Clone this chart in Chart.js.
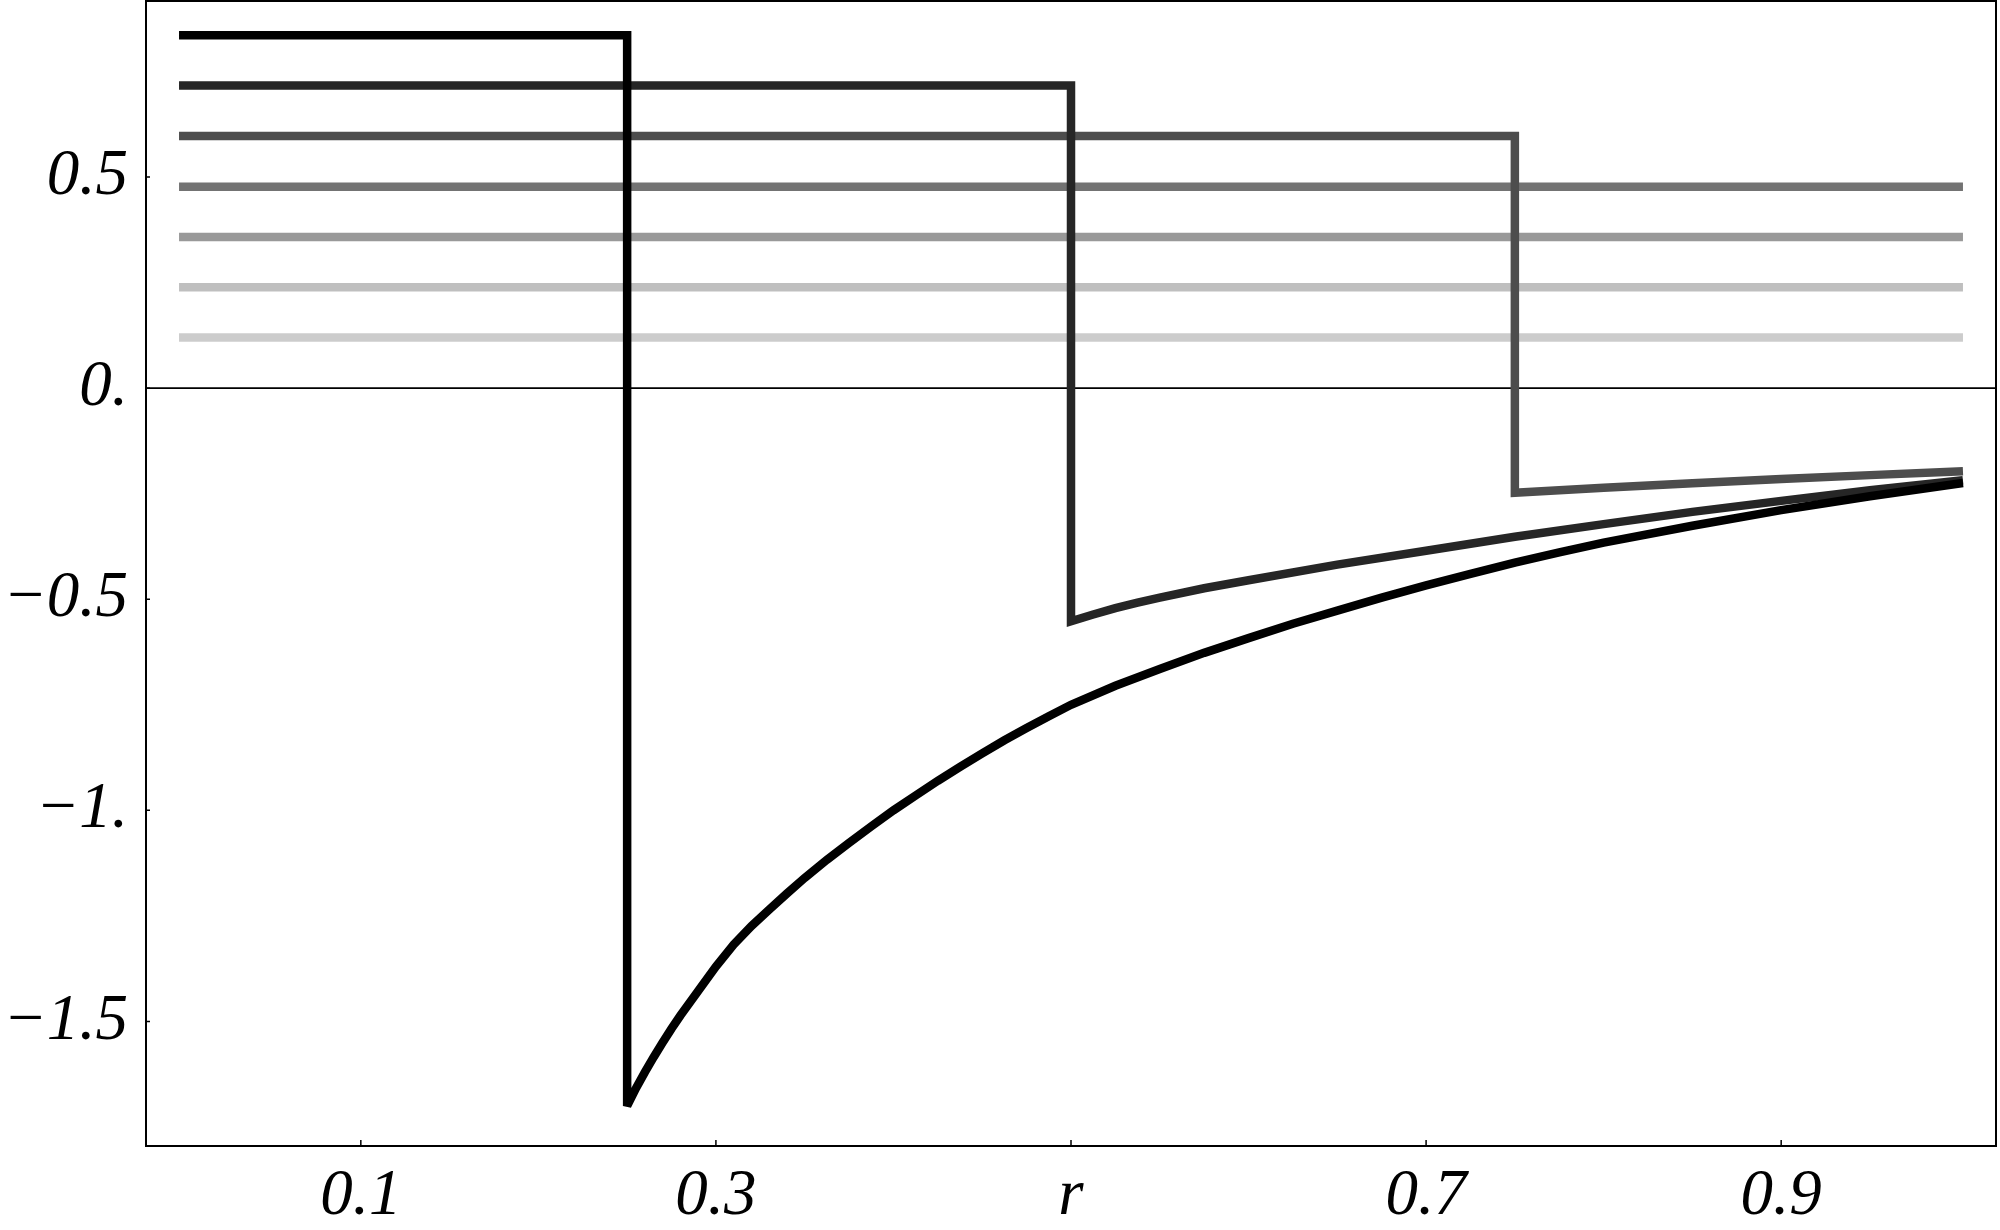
<!DOCTYPE html>
<html lang="en">
<head>
<meta charset="UTF-8">
<title>Curvas en r</title>
<script src="https://cdn.jsdelivr.net/npm/chart.js"></script>
<style>
  body { margin: 0; background: #fff; }
  canvas { display: block; }
</style>
</head>
<body>
<canvas id="grafico" width="2000" height="1230"></canvas>
<script>
// flat level of each curve for small r, top curve first
const levels = [0.836, 0.717, 0.597, 0.477, 0.358, 0.239, 0.120];
// r where the first three curves drop
const jumps = [0.25, 0.5, 0.75];

// what each of those three does after the drop
const tail1R = [0.25, 0.255, 0.26, 0.265, 0.27, 0.275, 0.28, 0.29, 0.30, 0.31, 0.32, 0.33, 0.34, 0.35, 0.3625, 0.375, 0.3875, 0.40, 0.4125, 0.425, 0.4375, 0.45, 0.4625, 0.475, 0.4875, 0.50, 0.525, 0.55, 0.575, 0.60, 0.625, 0.65, 0.675, 0.70, 0.725, 0.75, 0.775, 0.80, 0.85, 0.90, 0.95, 1.00];
const tail1V = [-1.70, -1.658, -1.62, -1.584, -1.55, -1.517, -1.486, -1.428, -1.37, -1.318, -1.274, -1.235, -1.197, -1.16, -1.117, -1.077, -1.038, -1.00, -0.965, -0.93, -0.897, -0.865, -0.834, -0.805, -0.777, -0.75, -0.705, -0.665, -0.627, -0.592, -0.558, -0.527, -0.496, -0.467, -0.44, -0.413, -0.389, -0.366, -0.326, -0.289, -0.256, -0.226];
const tail2R = [0.5, 0.5125, 0.525, 0.5375, 0.55, 0.575, 0.6, 0.65, 0.7, 0.75, 0.8, 0.85, 0.9, 0.95, 1.0];
const tail2V = [-0.552, -0.536, -0.521, -0.508, -0.496, -0.474, -0.455, -0.418, -0.385, -0.352, -0.322, -0.293, -0.267, -0.242, -0.219];
const tail3R = [0.75, 0.8, 0.85, 0.9, 0.95, 1.0];
const tail3V = [-0.248, -0.236, -0.225, -0.215, -0.206, -0.197];

const xTicks = [0.1, 0.3, 0.5, 0.7, 0.9];
const xLabels = ['0.1', '0.3', 'r', '0.7', '0.9'];
const yTicks = [-1.5, -1, -0.5, 0, 0.5];
const yLabels = ['\u22121.5', '\u22121.', '\u22120.5', '0.', '0.5'];

const grises = ['#000000', '#262626', '#4d4d4d', '#737373', '#999999', '#bfbfbf', '#cccccc'];
const tails = [[tail1R, tail1V], [tail2R, tail2V], [tail3R, tail3V]];
const fuente = { family: "'Liberation Serif', 'DejaVu Serif', serif", size: 65, style: 'italic' };

const datasets = levels.map((lv, i) => {
    const pts = [{ x: 0, y: lv }];
    if (i < jumps.length) {
        pts.push({ x: jumps[i], y: lv });
        tails[i][0].forEach((r, k) => pts.push({ x: r, y: tails[i][1][k] }));
    } else {
        pts.push({ x: 1, y: lv });
    }
    return {
        data: pts,
        showLine: true,
        borderColor: grises[i],
        borderWidth: 8.5,
        borderJoinStyle: 'miter',
        borderCapStyle: 'square',
        pointRadius: 0,
        tension: 0,
        fill: false
    };
});

// frame, zero line and inward ticks
const marco = {
    id: 'marco',
    beforeDatasetsDraw(chart) {
        const { ctx, chartArea: a, scales: { y } } = chart;
        const y0 = y.getPixelForValue(0);
        ctx.save();
        ctx.strokeStyle = '#000';
        ctx.lineWidth = 1.7;
        ctx.beginPath();
        ctx.moveTo(a.left, y0);
        ctx.lineTo(a.right, y0);
        ctx.stroke();
        ctx.restore();
        ctx.miterLimit = 2;
    },
    afterDatasetsDraw(chart) {
        const { ctx, chartArea: a, scales: { x, y } } = chart;
        ctx.miterLimit = 10;
        ctx.save();
        ctx.strokeStyle = '#000';
        ctx.lineWidth = 2;
        ctx.strokeRect(a.left, a.top, a.right - a.left, a.bottom - a.top);
        ctx.lineWidth = 1.5;
        ctx.beginPath();
        xTicks.forEach(v => {
            const px = x.getPixelForValue(v);
            ctx.moveTo(px, a.bottom);
            ctx.lineTo(px, a.bottom - 6);
        });
        yTicks.forEach(v => {
            const py = y.getPixelForValue(v);
            ctx.moveTo(a.left, py);
            ctx.lineTo(a.left + 4, py);
        });
        ctx.stroke();
        ctx.restore();
    }
};

new Chart(document.getElementById('grafico'), {
    type: 'scatter',
    data: { datasets },
    options: {
        responsive: false,
        animation: false,
        devicePixelRatio: 1,
        layout: { padding: { top: 1, right: 4, left: 0, bottom: 0 } },
        plugins: { legend: { display: false }, tooltip: { enabled: false } },
        scales: {
            x: {
                type: 'linear',
                min: -0.021,
                max: 1.021,
                grid: { display: false, drawTicks: false },
                border: { display: false },
                afterBuildTicks: s => { s.ticks = xTicks.map(v => ({ value: v })); },
                afterFit: s => { s.height = 84; s.paddingLeft = 0; s.paddingRight = 0; },
                ticks: {
                    font: fuente,
                    color: '#000',
                    padding: 12,
                    maxRotation: 0,
                    autoSkip: false,
                    callback: (v, i) => xLabels[i]
                }
            },
            y: {
                type: 'linear',
                min: -1.795,
                max: 0.917,
                grid: { display: false, drawTicks: false },
                border: { display: false },
                afterBuildTicks: s => { s.ticks = yTicks.map(v => ({ value: v })); },
                afterFit: s => { s.width = 146; s.paddingTop = 0; s.paddingBottom = 0; },
                ticks: {
                    font: fuente,
                    color: '#000',
                    padding: 18,
                    autoSkip: false,
                    callback: (v, i) => yLabels[i]
                }
            }
        }
    },
    plugins: [marco]
});
</script>
</body>
</html>
